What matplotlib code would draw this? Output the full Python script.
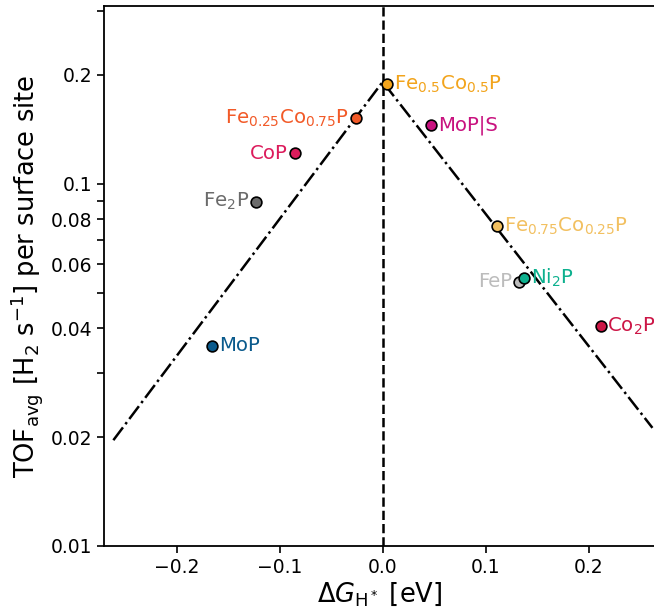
import matplotlib
matplotlib.use("Agg")   # no display, just save the png
import matplotlib.pyplot as plt
from matplotlib.ticker import FixedLocator, NullLocator

# catalysts: dG_H* [eV] and average TOF [H2 s^-1 per surface site]
names = [
    r"Fe$_{0.5}$Co$_{0.5}$P",
    r"Fe$_{0.25}$Co$_{0.75}$P",
    r"MoP|S",
    r"CoP",
    r"Fe$_2$P",
    r"Fe$_{0.75}$Co$_{0.25}$P",
    r"FeP",
    r"Ni$_2$P",
    r"Co$_2$P",
    r"MoP",
]
dG = [0.0045, -0.026, 0.047, -0.085, -0.1227, 0.111, 0.1328, 0.1376, 0.2116, -0.1658]
tof = [0.189, 0.152, 0.1456, 0.1216, 0.0894, 0.0766, 0.0537, 0.0551, 0.0405, 0.0357]
colors = ["#f2a41c", "#f25a28", "#c8127f", "#dc1c5c", "#6b6b6b",
          "#f2c060", "#bcbcbc", "#0db08e", "#cc1646", "#0a5a8c"]
label_side = ["right", "left", "right", "left", "left",
              "right", "left", "right", "right", "right"]

# volcano guide line (dash-dot)
volcano_x = [-0.2616, 0.0, 0.262]
volcano_y = [0.0196, 0.1915, 0.0212]

yticks = [0.01, 0.02, 0.03, 0.04, 0.05, 0.06, 0.07, 0.08, 0.09, 0.1, 0.2, 0.3]
ytick_labels = ["0.01", "0.02", "", "0.04", "", "0.06", "", "0.08", "", "0.1", "0.2", ""]
xticks = [-0.2, -0.1, 0.0, 0.1, 0.2]

fig = plt.figure(figsize=(6.54, 6.08), dpi=100)
ax = fig.add_axes([0.159, 0.102, 0.843, 0.888])

ax.axvline(0.0, color="black", linestyle="--", linewidth=1.8, zorder=1)
ax.plot(volcano_x, volcano_y, color="black", linestyle="-.", linewidth=1.8, zorder=2)

for i in range(len(names)):
    ax.scatter(dG[i], tof[i], s=60, color=colors[i], edgecolor="black",
               linewidth=1.2, zorder=3 + i)
    off = 5 if label_side[i] == "right" else -5.5
    ha = "left" if label_side[i] == "right" else "right"
    ax.annotate(names[i], (dG[i], tof[i]), xytext=(off, 0), textcoords="offset points",
                ha=ha, va="center", fontsize=14.2, color=colors[i], zorder=20)

ax.set_yscale("log")
ax.set_xlim(-0.2707, 0.2648)
ax.set_ylim(0.01, 0.31)
ax.yaxis.set_major_locator(FixedLocator(yticks))
ax.set_yticklabels(ytick_labels)
ax.yaxis.set_minor_locator(NullLocator())
ax.set_xticks(xticks)
ax.set_xticklabels(["\u22120.2", "\u22120.1", "0.0", "0.1", "0.2"])
ax.tick_params(labelsize=13.5, width=1.2, length=5)
for sp in ax.spines.values():
    sp.set_linewidth(1.3)
ax.spines["right"].set_visible(False)

ax.set_xlabel(r"$\Delta G_\mathrm{H^*}$ [eV]", fontsize=18.5, labelpad=2)
ax.set_ylabel(r"TOF$_\mathrm{avg}$ [H$_2$ s$^{-1}$] per surface site", fontsize=18.5, labelpad=4)

fig.savefig("out.png", dpi=100)
print("Saved plot: out.png")
